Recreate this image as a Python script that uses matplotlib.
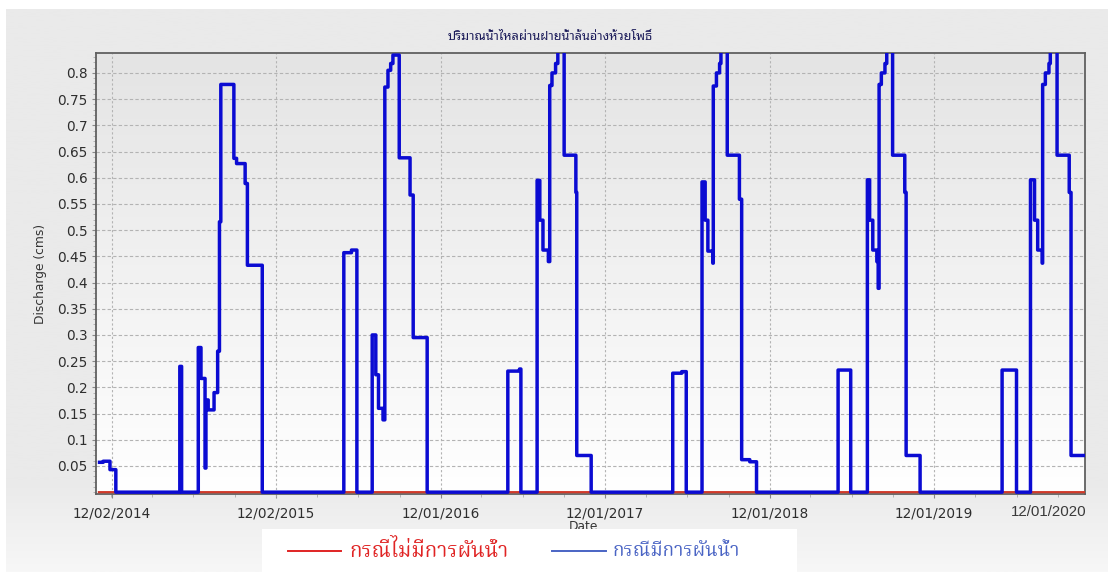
import numpy as np
import matplotlib
matplotlib.use("Agg")
import matplotlib.pyplot as plt
import matplotlib.dates as mdates
from matplotlib import font_manager
from matplotlib.ft2font import FT2Font
from matplotlib.patches import Rectangle
from matplotlib.lines import Line2D

# ---------------- data ----------------
title_text = "ปริมาณน้ำไหลผ่านฝายน้ำล้นอ่างห้วยโพธิ์"
y_label = "Discharge (cms)"
x_label = "Date"
legend_labels = ["กรณีไม่มีการผันน้ำ", "กรณีมีการผันน้ำ"]

flow_dates = [
    "2014-11-01", "2014-11-13", "2014-11-28", "2014-12-11",
    "2015-05-02", "2015-05-06",
    "2015-06-12", "2015-06-18", "2015-06-27", "2015-06-29", "2015-07-04",
    "2015-07-17", "2015-07-25", "2015-07-29", "2015-08-01", "2015-08-30",
    "2015-09-05", "2015-09-24", "2015-09-29", "2015-11-01",
    "2016-04-30", "2016-05-17", "2016-05-29",
    "2016-07-02", "2016-07-10", "2016-07-16", "2016-07-26", "2016-07-30",
    "2016-08-06", "2016-08-12", "2016-08-17", "2016-08-31", "2016-09-24",
    "2016-10-01", "2016-11-01",
    "2017-04-29", "2017-05-25", "2017-05-28",
    "2017-07-03", "2017-07-09", "2017-07-16", "2017-07-28", "2017-07-31",
    "2017-08-05", "2017-08-13", "2017-08-18", "2017-09-01", "2017-09-27",
    "2017-09-29", "2017-10-31",
    "2018-04-30", "2018-05-20", "2018-05-30",
    "2018-07-04", "2018-07-11", "2018-07-17", "2018-07-28", "2018-07-29",
    "2018-08-05", "2018-08-12", "2018-08-15", "2018-08-29", "2018-09-25",
    "2018-09-30", "2018-10-18", "2018-11-02",
    "2019-05-02", "2019-05-30",
    "2019-07-06", "2019-07-11", "2019-07-18", "2019-07-27", "2019-07-30",
    "2019-08-01", "2019-08-06", "2019-08-14", "2019-08-18", "2019-08-31",
    "2019-09-27", "2019-09-30", "2019-10-31",
    "2020-04-30", "2020-06-01",
    "2020-07-02", "2020-07-11", "2020-07-18", "2020-07-28", "2020-07-29",
    "2020-08-04", "2020-08-12", "2020-08-15", "2020-08-30", "2020-09-26",
    "2020-09-30", "2020-10-31",
]
flow_diverted = [
    0.057, 0.059, 0.043, 0.0,
    0.240, 0.0,
    0.276, 0.217, 0.046, 0.176, 0.157,
    0.190, 0.269, 0.516, 0.778, 0.637,
    0.627, 0.589, 0.433, 0.0,
    0.457, 0.462, 0.0,
    0.300, 0.224, 0.160, 0.138, 0.773,
    0.805, 0.818, 0.834, 0.638, 0.567,
    0.295, 0.0,
    0.231, 0.235, 0.0,
    0.595, 0.519, 0.462, 0.440, 0.776,
    0.800, 0.818, 0.860, 0.643, 0.572,
    0.070, 0.0,
    0.227, 0.230, 0.0,
    0.592, 0.519, 0.460, 0.437, 0.775,
    0.800, 0.818, 0.860, 0.643, 0.559,
    0.062, 0.058, 0.0,
    0.233, 0.0,
    0.596, 0.519, 0.462, 0.440, 0.389,
    0.778, 0.800, 0.818, 0.860, 0.643,
    0.572, 0.070, 0.0,
    0.233, 0.0,
    0.596, 0.519, 0.462, 0.437, 0.778,
    0.800, 0.818, 0.860, 0.643, 0.572,
    0.070, 0.070,
]
no_div_dates = ["2014-11-01", "2020-10-31"]
flow_no_diversion = [0.0, 0.0]

major_tick_dates = ["2014-12-02", "2015-12-02", "2016-12-01",
                    "2017-12-01", "2018-12-01", "2019-12-01"]
end_label = "12/01/2020"
y_ticks = [0.05, 0.1, 0.15, 0.2, 0.25, 0.3, 0.35, 0.4, 0.45, 0.5,
           0.55, 0.6, 0.65, 0.7, 0.75, 0.8]

# ---------------- fonts ----------------
def find_thai_fonts():
    names = []
    for fe in font_manager.fontManager.ttflist:
        try:
            cm = FT2Font(fe.fname).get_charmap()
        except Exception:
            continue
        if 0x0E1B in cm and 0x0E33 in cm and 0x0E49 in cm:
            if fe.name not in names:
                names.append(fe.name)
    return names

thai_names = find_thai_fonts()

def pick(prefs):
    for p in prefs:
        for n in thai_names:
            if p in n:
                return n
    return thai_names[0] if thai_names else None

title_font = pick(["Noto Sans Thai Looped", "Noto Sans Thai", "Thai"])
legend_font = pick(["Serif Thai", "Thai Looped", "Noto Sans Thai", "Thai"])
title_fam = [title_font, "DejaVu Sans"] if title_font else ["DejaVu Sans"]
legend_fam = [legend_font, "DejaVu Sans"] if legend_font else ["DejaVu Sans"]

# ---------------- figure ----------------
W, H = 1108, 572
fig = plt.figure(figsize=(W / 100, H / 100), dpi=100)
fig.patch.set_facecolor("white")

# grey panel with a lighter lower band
bg = fig.add_axes([6 / W, 0, 1 - 6 / W, 1 - 9 / H], zorder=-1)
bg.set_xlim(0, 1)
bg.set_ylim(0, 1)
panel_grad = np.clip(np.linspace(0, 1, 512) / 0.16, 0, 1).reshape(-1, 1)
bg.imshow(panel_grad, cmap=matplotlib.colors.LinearSegmentedColormap.from_list(
    "p", ["#f7f7f7", "#eaeaea"]), extent=[0, 1, 0, 1], origin="lower", aspect="auto")
bg.set_axis_off()

ax = fig.add_axes([96 / W, 1 - 494 / H, (1085 - 96) / W, (494 - 53) / H])
ax.set_facecolor("white")
grad = np.linspace(0, 1, 256).reshape(-1, 1)
ax.imshow(grad, cmap=matplotlib.colors.LinearSegmentedColormap.from_list(
    "g", ["#ffffff", "#e4e4e4"]), extent=[0, 1, 0, 1], origin="lower",
    transform=ax.transAxes, aspect="auto", zorder=0)

fd = np.array(flow_dates, dtype="datetime64[D]")
nd = np.array(no_div_dates, dtype="datetime64[D]")

red_line, = ax.plot(nd, flow_no_diversion, color="#d13a2a", lw=1.6, zorder=3,
                    solid_capstyle="butt")
blue_line, = ax.step(fd, flow_diverted, where="post", color="#0b0bd2", lw=2.5,
                     zorder=4, solid_joinstyle="round", solid_capstyle="butt")
red_line.set_snap(False)
blue_line.set_snap(False)

ax.set_xlim(np.datetime64("2014-10-28"), np.datetime64("2020-10-31"))
ax.set_ylim(-0.0035, 0.838)

ax.set_xticks(np.array(major_tick_dates, dtype="datetime64[D]"))
ax.xaxis.set_major_formatter(mdates.DateFormatter("%m/%d/%Y"))
ax.xaxis.set_minor_locator(mdates.MonthLocator(bymonth=[3, 6, 9, 12], bymonthday=1))
ax.set_yticks(y_ticks)
ax.set_yticklabels([f"{v:g}" for v in y_ticks])
ax.yaxis.set_minor_locator(matplotlib.ticker.MultipleLocator(0.01))

ax.tick_params(axis="both", which="major", labelsize=9.8, labelcolor="#2e2e2e",
               color="#888888", length=3, width=0.8)
ax.tick_params(axis="both", which="minor", color="#aaaaaa", length=2, width=0.6)
ax.tick_params(axis="x", pad=6)
ax.tick_params(axis="y", pad=3)

ax.grid(True, axis="y", which="major", color="#b3b3b3", linestyle=(0, (3, 2)), lw=0.8)
ax.grid(True, axis="x", which="major", color="#b3b3b3", linestyle=(0, (2, 2)), lw=0.8)
for gl in ax.get_xgridlines() + ax.get_ygridlines():
    gl.set_zorder(1)

for s in ax.spines.values():
    s.set_color("#606060")
    s.set_linewidth(1.3)
    s.set_zorder(2)

ax.set_ylabel(y_label, fontsize=8.8, color="#333333")
ax.yaxis.set_label_coords(-(96 - 47) / (1085 - 96), 0.5)

fig.text(550 / W, 1 - 37 / H, title_text, family=title_fam, fontsize=9.1,
         fontweight="bold", color="#1c1c5a", ha="center", va="center")

fig.text(583 / W, 1 - 527 / H, x_label, ha="center", va="center",
         fontsize=8.8, color="#333333")
fig.text(1049 / W, 1 - 512 / H, end_label, ha="center", va="center",
         fontsize=10.8, color="#3a3a3a", family=["Liberation Sans", "DejaVu Sans"])

# legend panel
fig.add_artist(Rectangle((262 / W, 0), (797 - 262) / W, (572 - 529) / H,
                         transform=fig.transFigure, facecolor="white",
                         edgecolor="none", zorder=5))
leg_colors = ["#e02424", "#4a64c4"]
leg_lines = [(288, 341), (552, 606)]
leg_text_x = [349, 613]
leg_sizes = [14.8, 13.6]
yl = 1 - 551 / H
for (x0, x1), tx, lab, c, fs in zip(leg_lines, leg_text_x, legend_labels,
                                    leg_colors, leg_sizes):
    fig.add_artist(Line2D([x0 / W, x1 / W], [yl, yl], transform=fig.transFigure,
                          color=c, lw=1.4, zorder=6))
    fig.text(tx / W, yl, lab, family=legend_fam, fontsize=fs, color=c,
             ha="left", va="center", zorder=6)

fig.savefig("out.png", dpi=100, facecolor=fig.get_facecolor())
